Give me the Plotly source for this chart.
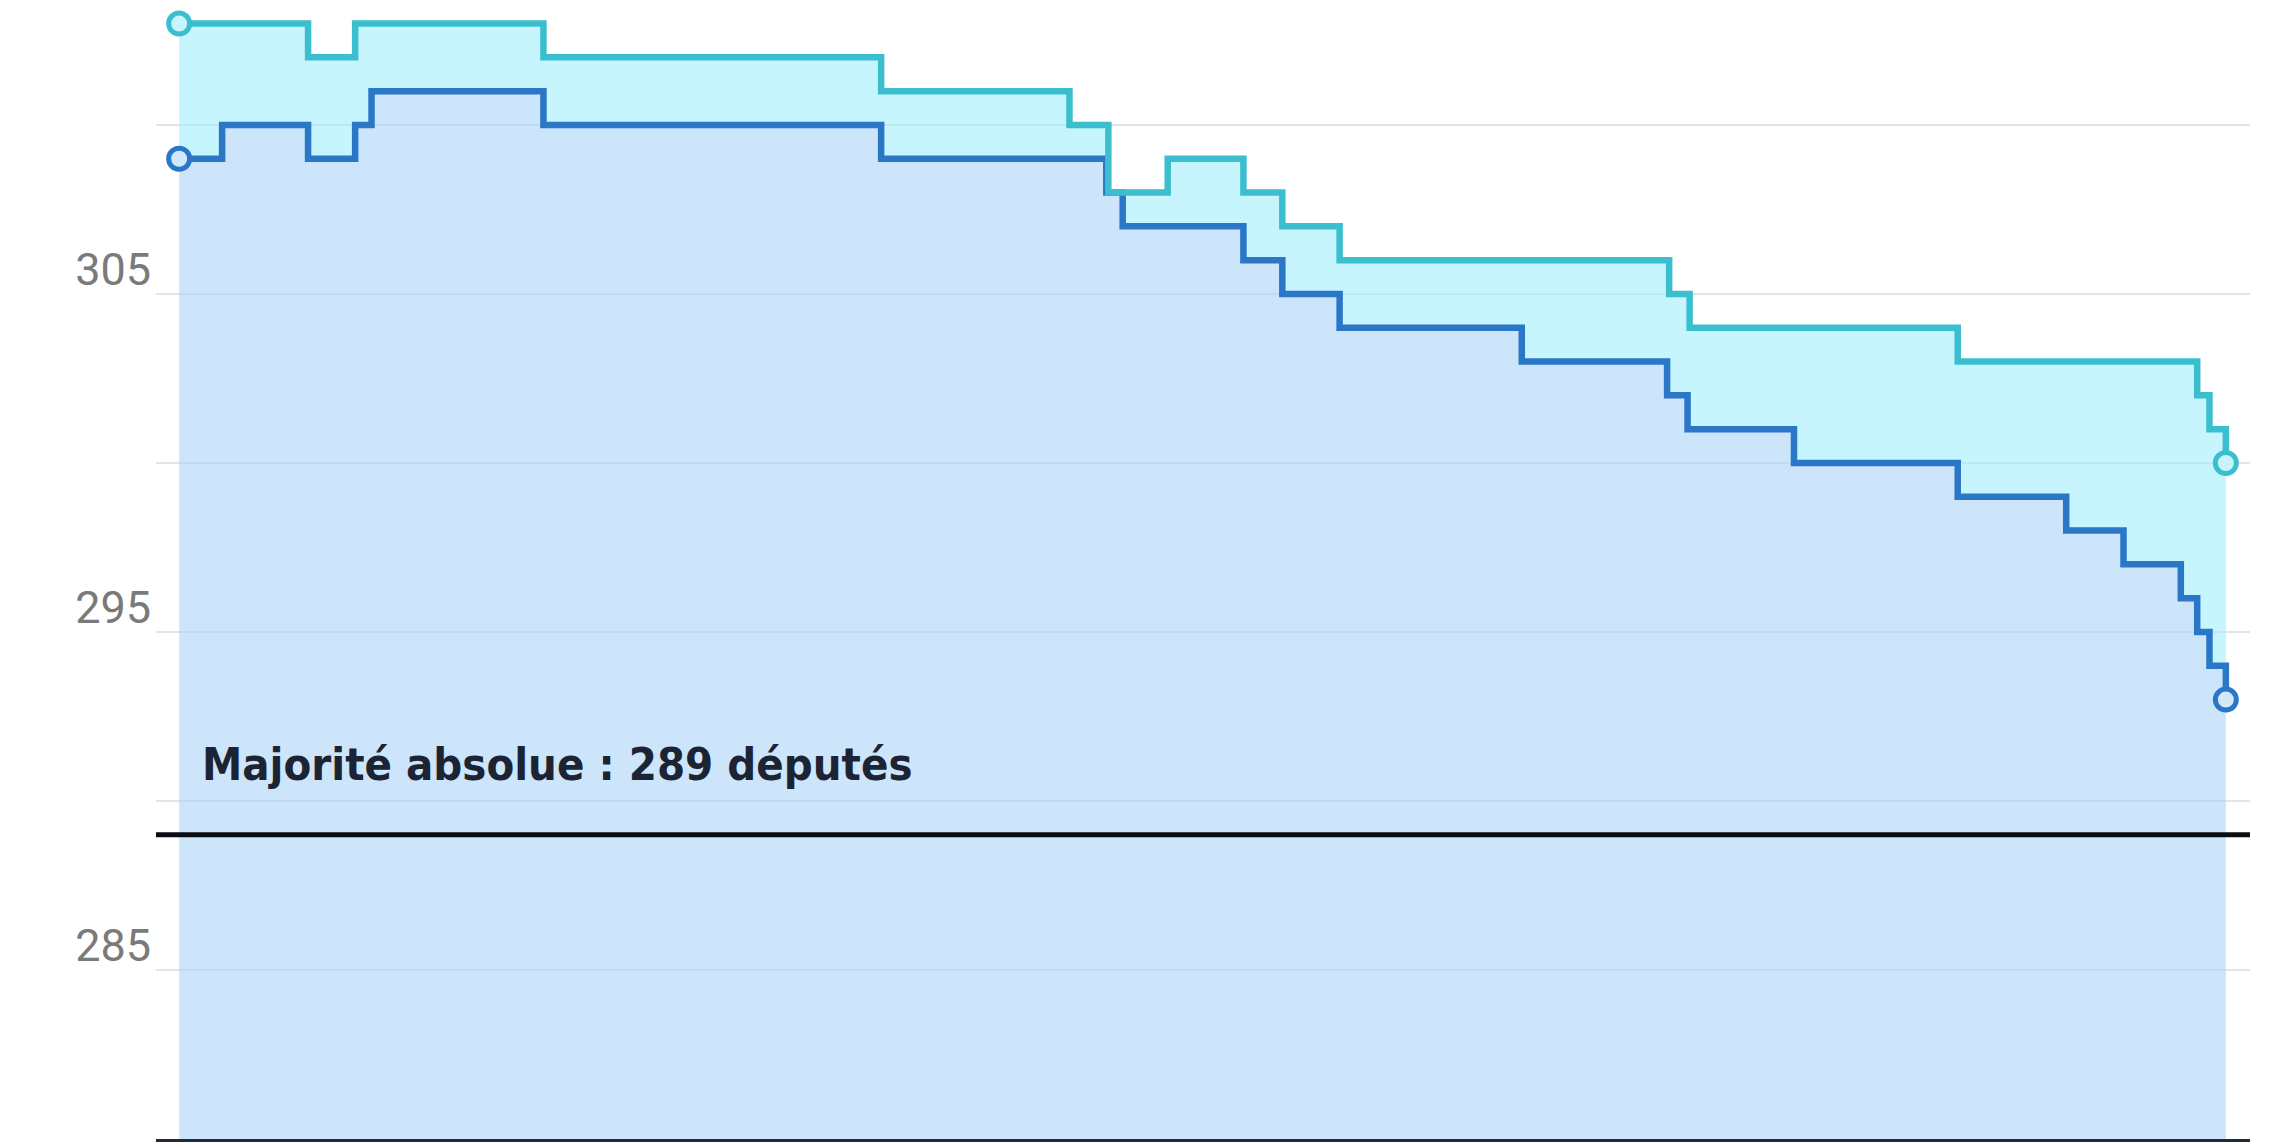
import plotly.graph_objects as go

# Données (x : jours depuis le début de la période)
jours_clair = [0, 63, 86, 178, 343, 435, 454, 483, 520, 539, 567, 728, 738, 869, 986, 992, 1000]
deputes_clair = [313, 312, 313, 312, 311, 310, 308, 309, 308, 307, 306, 305, 304, 303, 302, 301, 300]

jours_fonce = [0, 21, 63, 86, 94, 178, 343, 453, 461, 520, 539, 567, 656, 727, 737, 789, 869, 922, 950, 978, 986, 992, 1000]
deputes_fonce = [309, 310, 309, 310, 311, 310, 309, 308, 307, 306, 305, 304, 303, 302, 301, 300, 299, 298, 297, 296, 295, 294, 293]

majorite = 289
tick_vals = [285, 290, 295, 300, 305, 310]
tick_text = ["285", "", "295", "", "305", ""]

COL_CLAIR = "#3bbfcf"
COL_FONCE = "#2a77c8"
FILL_FONCE = "rgba(170,212,248,0.6)"
FILL_CLAIR = "rgba(160,238,251,0.6)"

fig = go.Figure()

fig.add_trace(go.Scatter(
    x=jours_fonce, y=deputes_fonce, mode="lines", line_shape="hv",
    line=dict(color=COL_FONCE, width=6.5), fill="tozeroy", fillcolor=FILL_FONCE,
    showlegend=False, hoverinfo="skip"))
fig.add_trace(go.Scatter(
    x=jours_clair, y=deputes_clair, mode="lines", line_shape="hv",
    line=dict(color=COL_CLAIR, width=6.5), fill="tonexty", fillcolor=FILL_CLAIR,
    showlegend=False, hoverinfo="skip"))

# marqueurs de début et de fin
fig.add_trace(go.Scatter(
    x=[jours_fonce[0], jours_fonce[-1]], y=[deputes_fonce[0], deputes_fonce[-1]],
    mode="markers", marker=dict(symbol="circle", size=21, color="#d2e8fb",
                                line=dict(width=5, color=COL_FONCE)),
    showlegend=False, hoverinfo="skip"))
fig.add_trace(go.Scatter(
    x=[jours_clair[0], jours_clair[-1]], y=[deputes_clair[0], deputes_clair[-1]],
    mode="markers", marker=dict(symbol="circle", size=21, color="#c8f4fc",
                                line=dict(width=5, color=COL_CLAIR)),
    showlegend=False, hoverinfo="skip"))

fig.add_shape(type="line", xref="paper", x0=0, x1=1, yref="y", y0=majorite, y1=majorite,
              line=dict(color="#0b0d12", width=5), layer="above")

fig.add_annotation(
    text="<b>Majorité absolue : 289 députés</b>", xref="paper", x=0.021, xanchor="left",
    yref="y", y=290.25, yanchor="bottom", showarrow=False,
    font=dict(family="Liberation Sans Narrow, DejaVu Sans Condensed, Roboto, sans-serif",
              size=45, color="#1c2434"))

# la page HTML ajoute une marge de 8 px : compensation
fig.update_layout(
    width=2278, height=1135,
    margin=dict(l=148, r=36, t=0, b=4),
    paper_bgcolor="white", plot_bgcolor="white",
    xaxis=dict(range=[-11.3, 1011.8], showgrid=False, zeroline=False, showticklabels=False,
               ticks="", showline=True, linecolor="#1f2a3b", linewidth=3),
    yaxis=dict(range=[280, 313.46], tickvals=tick_vals, ticktext=tick_text,
               showgrid=True, gridcolor="#e4e4e4", gridwidth=2, zeroline=False,
               showline=False, ticks="", ticklabelshift=-25, ticklabelstandoff=4,
               tickfont=dict(family="Roboto, Liberation Sans, sans-serif", size=45, color="#7a7a7a")),
)

fig.write_html("out.html")
